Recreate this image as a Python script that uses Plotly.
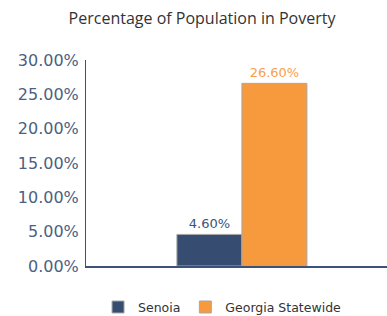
import plotly.graph_objects as go

categories = ["Percentage of Population in Poverty"]
series_names = ["Senoia", "Georgia Statewide"]
senoia_values = [4.6]
georgia_values = [26.6]
tick_values = [0, 5, 10, 15, 20, 25, 30]
tick_labels = ["0.00%", "5.00%", "10.00%", "15.00%", "20.00%", "25.00%", "30.00%"]

colors = ["#364c70", "#f7993d"]
label_colors = ["#3d5278", "#f9a04a"]

fig = go.Figure()
for name, vals, c, lc in zip(series_names, [senoia_values, georgia_values], colors, label_colors):
    fig.add_trace(go.Bar(
        x=[0], y=vals, name=name,
        marker=dict(color=c, line=dict(color="#a8a8a8", width=1)),
        text=[f"{v:.2f}%" for v in vals], textposition="outside",
        textfont=dict(color=lc, size=13, family="DejaVu Sans"),
        cliponaxis=False,
    ))

fig.update_layout(
    width=387, height=316,
    margin=dict(l=86, r=0, t=60, b=50, autoexpand=False),
    paper_bgcolor="white", plot_bgcolor="white",
    barmode="group", bargap=0.568, bargroupgap=0,
    title=dict(text="Percentage of Population in Poverty", x=0.522, xanchor="center",
               y=1 - 18/316, yanchor="middle",
               font=dict(family="Open Sans", size=16, color="#333333")),
    xaxis=dict(range=[-0.518, 0.482], showticklabels=False, showgrid=False,
               zeroline=False, showline=True, linecolor="#3d5278", linewidth=1.5, ticks=""),
    yaxis=dict(range=[0, 30], tickvals=tick_values, ticktext=tick_labels,
               showgrid=False, zeroline=False, showline=True, linecolor="#3d5278", linewidth=1,
               ticks="", ticklabelstandoff=3,
               tickfont=dict(family="DejaVu Sans", size=16, color="#4c5f82")),
    legend=dict(orientation="h", x=0.04, xanchor="left", y=-0.128, yanchor="top",
                font=dict(family="DejaVu Sans", size=12.5, color="#333333"),
                itemwidth=30),
    showlegend=True,
)

fig.write_html("out.html", config={"displayModeBar": False},
               post_script="document.body.style.margin='0';document.body.style.overflow='hidden';")
